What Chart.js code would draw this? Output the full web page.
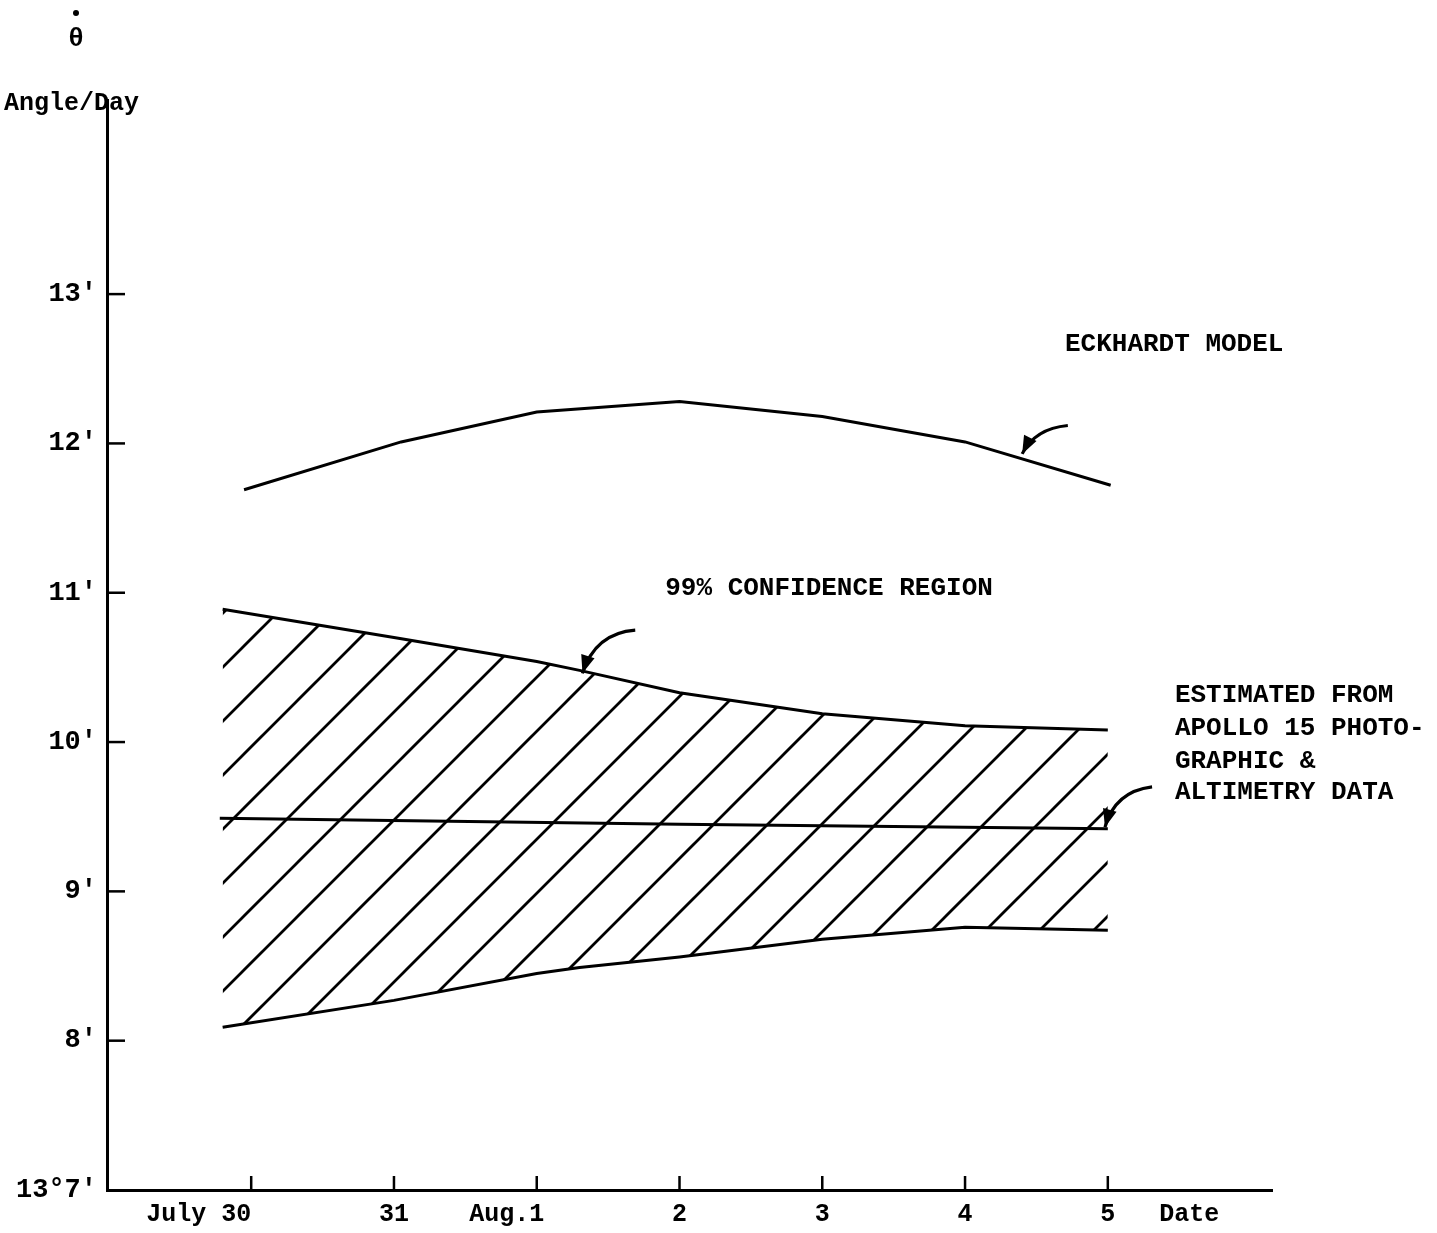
<!DOCTYPE html>
<html>
<head>
<meta charset="utf-8">
<script src="https://cdn.jsdelivr.net/npm/chart.js@4"></script>
<style>
  body { margin: 0; background: #fff; }
  #wrap { width: 1437px; height: 1233px; position: relative; }
</style>
</head>
<body>
<div id="wrap"><canvas id="chart"></canvas></div>
<script>
// x values are days counted from July 30 (0 = July 30, 6 = Aug. 5)
const dayTicks = [0, 1, 2, 3, 4, 5, 6];
const dayLabels = ["July 30", "31", "Aug.1", "2", "3", "4", "5"];
const dateLabelPos = 6.57;

// y values in arc-minutes per day (above 13 deg)
const yTicks = [7, 8, 9, 10, 11, 12, 13];
const yLabels = ["13°7'", "8'", "9'", "10'", "11'", "12'", "13'"];

// Eckhardt model curve
const eckDays = [-0.05, 1.05, 2.0, 3.0, 4.0, 5.0, 6.02];
const eckValues = [11.69, 12.01, 12.21, 12.28, 12.18, 12.01, 11.72];

// 99% confidence region bounds
const confDays = [-0.2, 1.0, 2.0, 2.3, 3.0, 4.0, 5.0, 6.0];
const confUpper = [10.89, 10.70, 10.54, 10.48, 10.33, 10.19, 10.11, 10.08];
const confLower = [8.09, 8.27, 8.45, 8.49, 8.56, 8.68, 8.76, 8.74];

// estimate from Apollo 15 data
const estDays = [-0.22, 3.0, 6.0];
const estValues = [9.49, 9.45, 9.42];

// annotation text, [day, value] of the left edge / middle
const notes = [
  { text: "ECKHARDT MODEL", at: [5.70, 12.66] },
  { text: "99% CONFIDENCE REGION", at: [2.90, 11.03] },
  { text: "ESTIMATED FROM", at: [6.47, 10.31] },
  { text: "APOLLO 15 PHOTO-", at: [6.47, 10.09] },
  { text: "GRAPHIC &", at: [6.47, 9.87] },
  { text: "ALTIMETRY DATA", at: [6.47, 9.66] },
];

// curved pointer arrows: start, control, tip
const arrows = [
  { from: [5.72, 12.12], ctrl: [5.49, 12.10], to: [5.40, 11.93] },
  { from: [2.69, 10.75], ctrl: [2.41, 10.73], to: [2.32, 10.46] },
  { from: [6.31, 9.70], ctrl: [6.05, 9.67], to: [5.98, 9.43] },
];

const FONT = "'Liberation Mono', 'DejaVu Sans Mono', monospace";

function toXY(xs, ys) {
  return xs.map((x, i) => ({ x: x, y: ys[i] }));
}

// diagonal hatching for the confidence band
function makeHatch() {
  const s = 54;
  const c = document.createElement("canvas");
  c.width = s;
  c.height = s;
  const g = c.getContext("2d");
  g.strokeStyle = "#000";
  g.lineWidth = 2.8;
  g.lineCap = "square";
  [0, s, 2 * s].forEach((k) => {
    g.beginPath();
    g.moveTo(k - s, s);
    g.lineTo(k, 0);
    g.stroke();
  });
  const pat = g.createPattern(c, "repeat");
  pat.setTransform(new DOMMatrix().translate(26, 0));
  return pat;
}

const decorPlugin = {
  id: "decor",
  afterDraw(chart) {
    const ctx = chart.ctx;
    const xs = chart.scales.x;
    const ys = chart.scales.y;
    const area = chart.chartArea;
    ctx.save();
    ctx.strokeStyle = "#000";
    ctx.fillStyle = "#000";

    // inward tick marks
    ctx.lineWidth = 2.5;
    yTicks.slice(1).forEach((v) => {
      const py = ys.getPixelForValue(v);
      ctx.beginPath();
      ctx.moveTo(area.left, py);
      ctx.lineTo(area.left + 18, py);
      ctx.stroke();
    });
    dayTicks.forEach((d) => {
      const px = xs.getPixelForValue(d);
      ctx.beginPath();
      ctx.moveTo(px, area.bottom);
      ctx.lineTo(px, area.bottom - 14);
      ctx.stroke();
    });

    // axis titles
    ctx.font = "bold 25px " + FONT;
    ctx.textBaseline = "middle";
    ctx.textAlign = "left";
    ctx.fillText("Angle/Day", 4, 104);
    ctx.font = "bold 26px " + FONT;
    ctx.textAlign = "center";
    ctx.fillText("\u03B8", 76, 39);
    ctx.beginPath();
    ctx.arc(76, 13, 3, 0, Math.PI * 2);
    ctx.fill();

    // notes
    ctx.font = "bold 26px " + FONT;
    ctx.textAlign = "left";
    notes.forEach((n) => {
      ctx.fillText(n.text, xs.getPixelForValue(n.at[0]), ys.getPixelForValue(n.at[1]));
    });

    // arrows
    ctx.lineWidth = 3.2;
    arrows.forEach((a) => {
      const p0 = [xs.getPixelForValue(a.from[0]), ys.getPixelForValue(a.from[1])];
      const p1 = [xs.getPixelForValue(a.ctrl[0]), ys.getPixelForValue(a.ctrl[1])];
      const p2 = [xs.getPixelForValue(a.to[0]), ys.getPixelForValue(a.to[1])];
      ctx.beginPath();
      ctx.moveTo(p0[0], p0[1]);
      ctx.quadraticCurveTo(p1[0], p1[1], p2[0], p2[1]);
      ctx.stroke();
      const ang = Math.atan2(p2[1] - p1[1], p2[0] - p1[0]);
      const len = 18, half = 7;
      ctx.beginPath();
      ctx.moveTo(p2[0], p2[1]);
      ctx.lineTo(p2[0] - len * Math.cos(ang) + half * Math.sin(ang),
                 p2[1] - len * Math.sin(ang) - half * Math.cos(ang));
      ctx.lineTo(p2[0] - len * Math.cos(ang) - half * Math.sin(ang),
                 p2[1] - len * Math.sin(ang) + half * Math.cos(ang));
      ctx.closePath();
      ctx.fill();
    });
    ctx.restore();
  },
};

const lineStyle = {
  borderColor: "#000",
  borderWidth: 3,
  pointRadius: 0,
  tension: 0,
  fill: false,
};

new Chart(document.getElementById("chart"), {
  type: "line",
  data: {
    datasets: [
      { ...lineStyle, label: "Eckhardt model", data: toXY(eckDays, eckValues) },
      {
        ...lineStyle,
        label: "99% upper",
        data: toXY(confDays, confUpper),
        fill: "+1",
        backgroundColor: makeHatch(),
      },
      { ...lineStyle, label: "99% lower", data: toXY(confDays, confLower) },
      { ...lineStyle, label: "Estimate", data: toXY(estDays, estValues) },
    ],
  },
  options: {
    responsive: true,
    maintainAspectRatio: false,
    animation: false,
    layout: { padding: { top: 100, right: 165, left: 0, bottom: 0 } },
    plugins: {
      legend: { display: false },
      tooltip: { enabled: false },
    },
    scales: {
      x: {
        type: "linear",
        min: -1.01,
        max: 7.15,
        afterFit: function (scale) {
          scale.height = 43;
        },
        afterBuildTicks: function (scale) {
          scale.ticks = dayTicks.concat([dateLabelPos]).map((v) => ({ value: v }));
        },
        ticks: {
          autoSkip: false,
          maxRotation: 0,
          padding: 10,
          color: "#000",
          font: { family: FONT, size: 25, weight: "bold" },
          callback: function (value) {
            if (value === dateLabelPos) return "Date";
            const i = dayTicks.indexOf(value);
            if (i < 0) return "";
            const lab = dayLabels[i];
            // keep the label's number at the tick
            const num = lab.replace(/^.*?(\d+)$/, "$1");
            const pre = lab.length - num.length;
            const pad = lab.indexOf(" ") >= 0 ? lab.length : pre;
            return lab + " ".repeat(pad);
          },
        },
        grid: { display: true, drawOnChartArea: false, drawTicks: false },
        border: { display: true, color: "#000", width: 3 },
      },
      y: {
        type: "linear",
        min: 7,
        max: 14.3,
        afterFit: function (scale) {
          scale.width = 107;
        },
        afterBuildTicks: function (scale) {
          scale.ticks = yTicks.map((v) => ({ value: v }));
        },
        ticks: {
          padding: 10,
          color: "#000",
          font: { family: FONT, size: 27, weight: "bold" },
          callback: function (value) {
            const i = yTicks.indexOf(value);
            return i < 0 ? "" : yLabels[i];
          },
        },
        grid: { display: true, drawOnChartArea: false, drawTicks: false },
        border: { display: true, color: "#000", width: 3 },
      },
    },
  },
  plugins: [decorPlugin],
});
</script>
</body>
</html>
